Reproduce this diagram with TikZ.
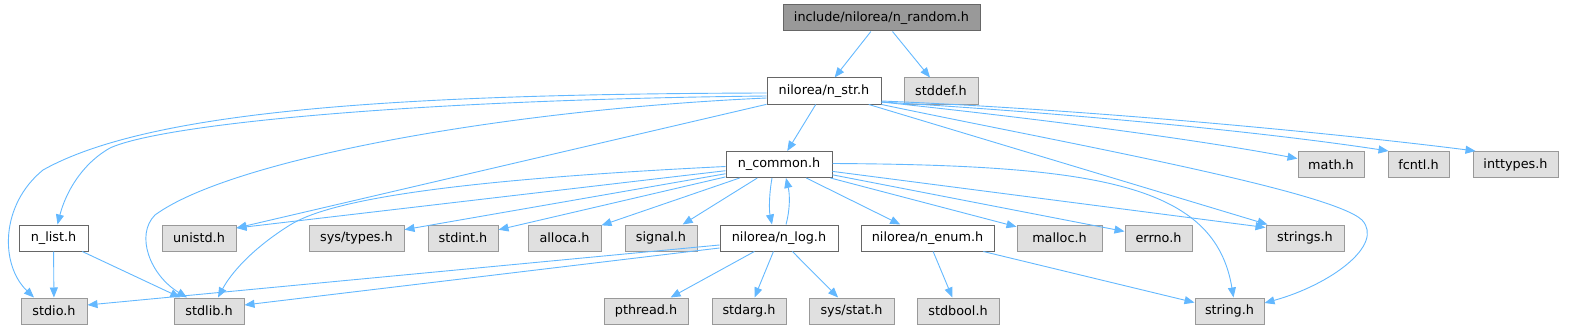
\documentclass[tikz,border=0pt]{standalone}
\usepackage{fontspec}
\setmainfont{DejaVu Sans}
\usepackage{xcolor}
\usepackage{tikz}
\usetikzlibrary{arrows.meta,calc}

\definecolor{edgeBlue}{HTML}{63B8FF}
\definecolor{darkBorder}{HTML}{666666}
\definecolor{lightBorder}{HTML}{999999}
\definecolor{sysFill}{HTML}{E0E0E0}
\definecolor{rootFill}{HTML}{999999}

\begin{document}
\begin{tikzpicture}[
  x=1pt, y=-1pt,
  font=\fontsize{12.8}{15}\selectfont, >={Triangle[length=10pt,width=8pt]},
  fileBox/.style={draw=darkBorder, fill=white, line width=1pt,
                  minimum height=26pt, inner sep=0pt},
  sysBox/.style={fileBox, draw=lightBorder, fill=sysFill},
  rootBox/.style={fileBox, fill=rootFill},
  arr/.style={->, color=edgeBlue, line width=0.9pt},
]
\useasboundingbox (0,0) rectangle (1574,329);

% top two rows
\node[rootBox, minimum width=197pt] (rnd)    at (881.5,18) {include/nilorea/n\_random.h};
\node[fileBox, minimum width=114pt] (str)    at (824,91)   {nilorea/n\_str.h};
\node[sysBox,  minimum width=74pt]  (stddef) at (941,91)   {stddef.h};

% third row
\node[fileBox, minimum width=106pt] (common)   at (779,164.5)    {n\_common.h};
\node[sysBox,  minimum width=66pt]  (mathh)    at (1331,164.5)   {math.h};
\node[sysBox,  minimum width=61pt]  (fcntl)    at (1418.5,164.5) {fcntl.h};
\node[sysBox,  minimum width=85pt]  (inttypes) at (1515.5,164.5) {inttypes.h};

% fourth row
\node[fileBox, minimum width=69pt]  (nlist)    at (53.5,238)   {n\_list.h};
\node[sysBox,  minimum width=74pt]  (unistd)   at (199,238)    {unistd.h};
\node[sysBox,  minimum width=95pt]  (systypes) at (356.5,238)  {sys/types.h};
\node[sysBox,  minimum width=70pt]  (stdint)   at (463,238)    {stdint.h};
\node[sysBox,  minimum width=73pt]  (alloca)   at (564.5,238)  {alloca.h};
\node[sysBox,  minimum width=72pt]  (signal)   at (661,238)    {signal.h};
\node[fileBox, minimum width=118pt] (nlog)     at (779,238)    {nilorea/n\_log.h};
\node[fileBox, minimum width=133pt] (nenum)    at (927.5,238)  {nilorea/n\_enum.h};
\node[sysBox,  minimum width=85pt]  (malloc)   at (1059.5,238) {malloc.h};
\node[sysBox,  minimum width=67pt]  (errno)    at (1158.5,238) {errno.h};
\node[sysBox,  minimum width=78pt]  (strings)  at (1305,238)   {strings.h};

% bottom row
\node[sysBox, minimum width=66pt] (stdio)   at (54,311)     {stdio.h};
\node[sysBox, minimum width=70pt] (stdlib)  at (209,311)    {stdlib.h};
\node[sysBox, minimum width=84pt] (pthread) at (646,311)    {pthread.h};
\node[sysBox, minimum width=74pt] (stdarg)  at (749,311)    {stdarg.h};
\node[sysBox, minimum width=85pt] (sysstat) at (851.5,311)  {sys/stat.h};
\node[sysBox, minimum width=82pt] (stdbool) at (958,311)    {stdbool.h};
\node[sysBox, minimum width=69pt] (stringh) at (1229.5,311) {string.h};

% n_random.h
\draw[arr] (rnd) -- (str);
\draw[arr] (rnd) -- (stddef);

% n_str.h
\draw[arr] (str) -- (common);
\draw[arr] ([yshift=-2pt]str.west) .. controls (400,94) and (150,110) .. (43,170)
           .. controls (0,205) and (0,265) .. ([xshift=-20pt]stdio.north);
\draw[arr] ([yshift=-5pt]str.west) .. controls (400,100) and (160,125) .. (110,148)
           .. controls (80,165) and (65,195) .. ([xshift=4pt]nlist.north);
\draw[arr] ([yshift=-7pt]str.west) .. controls (500,110) and (230,160) .. (155,215)
           .. controls (135,235) and (150,275) .. ([xshift=-22pt]stdlib.north);
\draw[arr] (str) -- ([yshift=10pt]unistd.east);
\draw[arr] (str) -- ([xshift=2pt]strings.north west);
\draw[arr] (str.south east) .. controls (1050,140) and (1330,190) .. (1362,220)
           .. controls (1385,245) and (1330,285) .. ([yshift=8pt]stringh.east);
\draw[arr] ([yshift=-11pt]str.east) .. controls (1050,120) and (1200,140) .. (mathh.170);
\draw[arr] ([yshift=-11pt]str.east) .. controls (1050,112) and (1250,130) .. ([xshift=1pt]fcntl.north west);
\draw[arr] ([yshift=-10pt]str.east) .. controls (1100,110) and (1350,135) .. ([xshift=3pt]inttypes.north west);

% n_common.h
\draw[arr] (common) -- ([yshift=10pt]unistd.east);
\draw[arr] ([yshift=-2pt]common.west) .. controls (450,180) and (330,200) .. (290,225)
           .. controls (250,250) and (230,275) .. ([xshift=9pt]stdlib.north);
\draw[arr] (common) -- (systypes);
\draw[arr] (common) -- (stdint);
\draw[arr] (common) -- (alloca);
\draw[arr] (common) -- (signal);
\draw[arr] ([xshift=-7pt]common.south) .. controls (769,195) and (769,210) .. ([xshift=-7pt]nlog.north);
\draw[arr] (common) -- (nenum);
\draw[arr] (common) -- (malloc);
\draw[arr] (common) -- (errno);
\draw[arr] (common) -- ([yshift=-3pt]strings.north west);
\draw[arr] ([yshift=1pt]common.east) .. controls (1100,165) and (1215,185) .. ([xshift=4pt]stringh.north);

% nilorea/n_log.h
\draw[arr] ([xshift=7pt]nlog.north) .. controls (790,210) and (790,195) .. ([xshift=7pt]common.south);
\draw[arr] ([yshift=-7pt]nlog.west) -- ([yshift=6pt]stdio.east);
\draw[arr] ([yshift=-10pt]nlog.west) -- ([yshift=6pt]stdlib.east);
\draw[arr] (nlog) -- (pthread);
\draw[arr] (nlog) -- (stdarg);
\draw[arr] (nlog) -- (sysstat);

% nilorea/n_enum.h
\draw[arr] (nenum) -- (stdbool);
\draw[arr] (nenum) -- (stringh);

% n_list.h
\draw[arr] (nlist) -- (stdio);
\draw[arr] (nlist) -- (stdlib);
\end{tikzpicture}
\end{document}
